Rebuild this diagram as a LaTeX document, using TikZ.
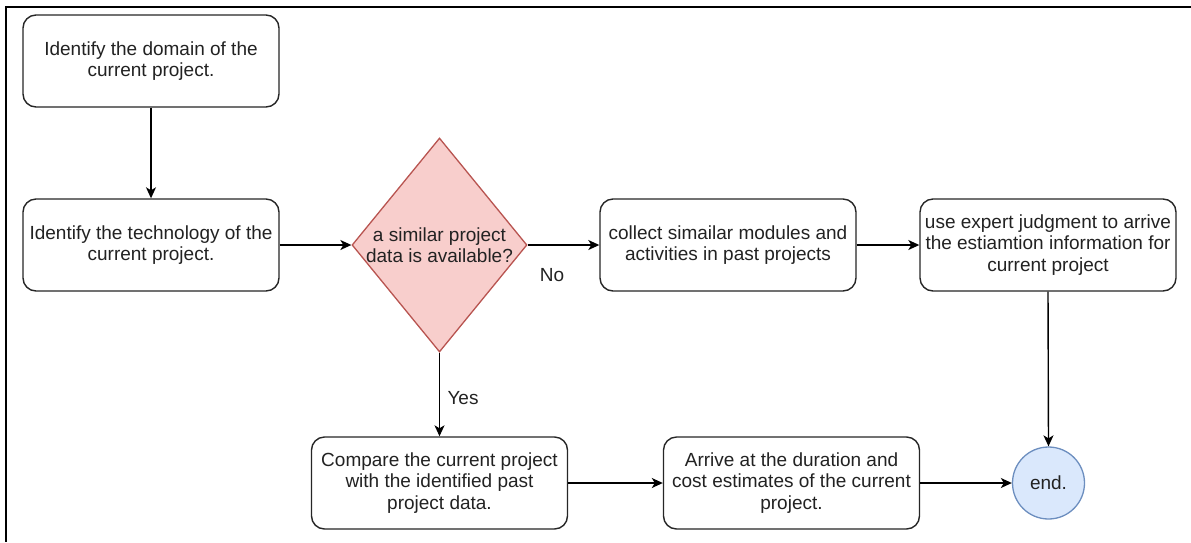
\documentclass[tikz,border=0pt]{standalone}
\usepackage{fontspec}
\setmainfont{Liberation Sans}
\usetikzlibrary{shapes.geometric,arrows.meta}
\definecolor{redfill}{HTML}{F8CECC}
\definecolor{redline}{HTML}{B85450}
\definecolor{bluefill}{HTML}{DAE8FC}
\definecolor{blueline}{HTML}{6C8EBF}
\definecolor{txt}{HTML}{222222}
\tikzset{
  stepbox/.style={draw=black!85, line width=1.4pt, rounded corners=13pt, fill=white,
    minimum width=256pt, minimum height=92pt, inner sep=0pt, align=center,
    text=txt, font=\fontsize{19}{21.5}\selectfont},
  decision/.style={diamond, draw=redline, line width=1.3pt, fill=redfill,
    minimum width=175pt, minimum height=214pt, inner sep=0pt},
  endnode/.style={circle, draw=blueline, line width=1.3pt, fill=bluefill,
    minimum size=72pt, inner sep=0pt, text=txt, font=\fontsize{19}{21.5}\selectfont},
  lbl/.style={text=txt, font=\fontsize{19}{21.5}\selectfont, inner sep=0pt},
  flow/.style={draw=black, line width=1.4pt, -{Stealth[length=11pt,width=10pt,inset=3pt]}},
  frameline/.style={draw=black, line width=1.8pt}
}
\begin{document}
\begin{tikzpicture}[x=1pt,y=-1pt]
\useasboundingbox (0,0) rectangle (1191,542);
\coordinate (fTL) at (6,7);
\coordinate (fTR) at (1191,7);
\coordinate (fBL) at (6,542);
\draw[frameline] (fTR) -- (fTL) -- (fBL);

\node[stepbox] (b1) at (151,61) {Identify the domain of the\\current project.};
\node[stepbox] (b2) at (151,245) {Identify the technology of the\\current project.};
\node[decision, label={[lbl, align=center]center:a similar project\\data is available?}] (dia) at (439.5,245) {};
\node[stepbox] (b3) at (728,245) {collect simailar modules and\\activities in past projects};
\node[stepbox] (b4) at (1048,245) {use expert judgment to arrive\\the estiamtion information for\\current project};
\node[stepbox] (b5) at (439.5,483) {Compare the current project\\with the identified past\\project data.};
\node[stepbox] (b6) at (791.5,483) {Arrive at the duration and\\cost estimates of the current\\project.};
\node[endnode] (end) at (1048.5,483) {end.};

\node[lbl] (no) at (552,275) {No};
\node[lbl] (yes) at (463,398) {Yes};

\draw[flow] (b1.south) -- (b2.north);
\draw[flow] (b2.east) -- (dia.west);
\draw[flow] (dia.east) -- (b3.west);
\draw[flow] (b3.east) -- (b4.west);
\draw[flow] (b4.south) -- (end.north);
\draw[flow] (dia.south) -- (b5.north);
\draw[flow] (b5.east) -- (b6.west);
\draw[flow] (b6.east) -- (end.west);
\end{tikzpicture}
\end{document}
